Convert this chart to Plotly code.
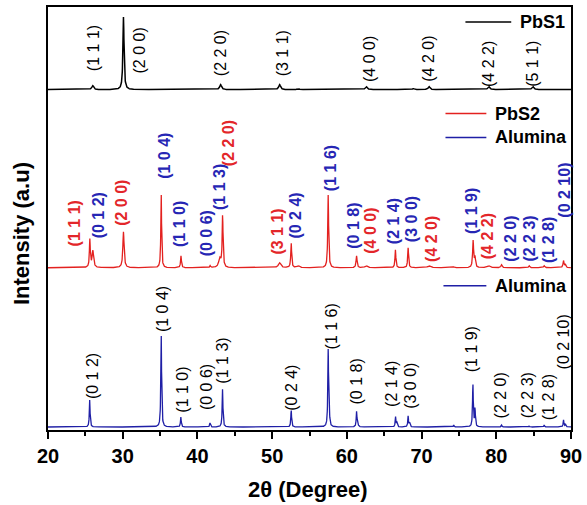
import numpy as np
import plotly.graph_objects as go

# ---------------- data ----------------
two_theta = np.round(np.arange(20, 90.0001, 0.02), 3)

# PbS1 (top pattern, black)
pbs1_base = 342
pbs1_pos = [26.0, 30.1, 43.1, 51.0, 53.5, 62.6, 68.9, 71.0, 79.0, 84.9]
pbs1_height = [4, 73, 5, 5, 1, 3, 1, 3, 3, 3]
pbs1_hwhm = [0.15, 0.09, 0.15, 0.15, 0.15, 0.15, 0.15, 0.15, 0.15, 0.15]
pbs1_labels = ["(1 1 1)", "(2 0 0)", "(2 2 0)", "(3 1 1)", "(4 0 0)", "(4 2 0)", "(4 2 2)", "(5 1 1)"]
pbs1_label_x = [26.0, 32.27, 43.07, 51.33, 62.93, 70.93, 78.93, 84.93]
pbs1_label_y = [383.5, 381, 379, 378.5, 372.5, 372.5, 368, 368]

# PbS2 (middle pattern, red)
pbs2_base = 163
pbs2_pos = [25.6, 26.0, 30.1, 35.15, 37.8, 41.7, 43.0, 43.37, 51.0, 52.55, 53.5,
            57.5, 61.3, 62.6, 66.5, 68.2, 71.0, 74.3, 76.9, 77.15, 79.0, 80.7,
            84.4, 86.4, 89.0, 89.25]
pbs2_height = [28, 17, 36, 75, 12, 2, 9, 52, 5, 25, 2,
               73, 12, 2, 18, 20, 2, 1, 27, 10, 2, 3,
               2, 2, 7, 3]
pbs2_hwhm = [0.07, 0.12, 0.1, 0.06, 0.07, 0.07, 0.18, 0.07, 0.2, 0.07, 0.2,
             0.07, 0.08, 0.2, 0.07, 0.07, 0.25, 0.1, 0.08, 0.08, 0.2, 0.1,
             0.1, 0.1, 0.08, 0.08]
pbs2_labels = ["(1 1 1)", "(0 1 2)", "(2 0 0)", "(1 0 4)", "(1 1 0)", "(0 0 6)", "(1 1 3)",
               "(2 2 0)", "(3 1 1)", "(0 2 4)", "(1 1 6)", "(0 1 8)", "(4 0 0)", "(2 1 4)",
               "(3 0 0)", "(4 2 0)", "(1 1 9)", "(4 2 2)", "(2 2 0)", "(2 2 3)", "(1 2 8)",
               "(0 2 10)"]
pbs2_label_phase = ["PbS", "Al", "PbS", "Al", "Al", "Al", "Al",
                    "PbS", "PbS", "Al", "Al", "Al", "PbS", "Al",
                    "Al", "PbS", "Al", "PbS", "Al", "Al", "Al", "Al"]
pbs2_label_x = [23.6, 26.8, 29.8, 35.6, 37.6, 41.33, 42.93,
                44.27, 50.67, 53.07, 57.73, 60.93, 63.2, 66.27,
                68.67, 71.33, 76.67, 78.93, 81.87, 84.4, 87.07, 89.2]
pbs2_label_y = [207.5, 215.5, 228.5, 275, 206.5, 198, 244.5,
                288.5, 199.5, 215.5, 263, 205, 200, 209.5,
                211.5, 191.5, 220.5, 195, 192.5, 192.5, 191, 240.5]

# Alumina (bottom pattern, blue)
alu_base = 3
alu_pos = [25.58, 35.15, 37.78, 41.68, 43.36, 52.55, 57.5, 57.65, 61.3, 61.45,
           66.52, 66.7, 68.2, 68.4, 74.3, 76.87, 77.15, 80.7, 84.4, 86.4, 89.0, 89.25]
alu_height = [27, 94, 10, 4, 38, 17, 77, 10, 15, 5,
              10, 4, 11, 4, 2, 43, 18, 2, 1, 2, 7, 3]
alu_hwhm = [0.06] * len(alu_pos)
alu_labels = ["(0 1 2)", "(1 0 4)", "(1 1 0)", "(0 0 6)", "(1 1 3)", "(0 2 4)", "(1 1 6)",
              "(0 1 8)", "(2 1 4)", "(3 0 0)", "(1 1 9)", "(2 2 0)", "(2 2 3)", "(1 2 8)",
              "(0 2 10)"]
alu_label_x = [25.87, 35.33, 38.0, 41.2, 43.33, 52.67, 58.0,
               61.33, 66.0, 68.53, 76.67, 80.53, 84.13, 86.93, 88.93]
alu_label_y = [54, 121, 41, 43.5, 70, 42.5, 104,
               48.5, 46, 44, 81.5, 35, 35, 33, 88]

x_ticks = [20, 30, 40, 50, 60, 70, 80, 90]


# ---------------- build ----------------
def pattern(base, pos, height, hwhm):
    y = np.full_like(two_theta, float(base))
    for p, h, w in zip(pos, height, hwhm):
        y = y + h / (1.0 + ((two_theta - p) / w) ** 2)
    return y


BLACK = "#000000"
RED = "#e3211f"
BLUE = "#1f1fa6"
RED_TXT = "#e3262a"
BLUE_TXT = "#2626b4"
FONT = "Liberation Sans, Arial, sans-serif"

# plot-area geometry (pixels) used to place the free titles
W, H = 587, 505
ML, MR, MT, MB = 48, 14, 5, 75
PW, PH = W - ML - MR, H - MT - MB

fig = go.Figure()
fig.add_trace(go.Scatter(x=two_theta, y=pattern(pbs1_base, pbs1_pos, pbs1_height, pbs1_hwhm),
                         mode="lines", line=dict(color=BLACK, width=1.5), name="PbS1"))
fig.add_trace(go.Scatter(x=two_theta, y=pattern(pbs2_base, pbs2_pos, pbs2_height, pbs2_hwhm),
                         mode="lines", line=dict(color=RED, width=1.3), name="PbS2"))
fig.add_trace(go.Scatter(x=two_theta, y=pattern(alu_base, alu_pos, alu_height, alu_hwhm),
                         mode="lines", line=dict(color=BLUE, width=1.3), name="Alumina"))

ann = []
for t, x, y in zip(pbs1_labels, pbs1_label_x, pbs1_label_y):
    ann.append(dict(x=x, y=y, xref="x", yref="y", text=t, textangle=-90, showarrow=False,
                    font=dict(family=FONT, size=16, color=BLACK)))
for t, ph, x, y in zip(pbs2_labels, pbs2_label_phase, pbs2_label_x, pbs2_label_y):
    ann.append(dict(x=x, y=y, xref="x", yref="y", text=t, textangle=-90, showarrow=False,
                    font=dict(family=FONT, size=16, color=RED_TXT if ph == "PbS" else BLUE_TXT,
                              weight="bold")))
for t, x, y in zip(alu_labels, alu_label_x, alu_label_y):
    ann.append(dict(x=x, y=y, xref="x", yref="y", text=t, textangle=-90, showarrow=False,
                    font=dict(family=FONT, size=16, color=BLACK)))

# in-panel legends
legend_items = [("PbS1", BLACK, 75.87, 82.0, 410),
                ("PbS2", RED, 73.2, 78.67, 318),
                ("Alumina", BLUE, 73.2, 78.67, 294),
                ("Alumina", BLUE, 72.93, 78.67, 145)]
shapes = []
for name, col, x0, x1, y in legend_items:
    shapes.append(dict(type="line", xref="x", yref="y", x0=x0, x1=x1, y0=y, y1=y,
                       line=dict(color=col, width=1.5)))
    ann.append(dict(x=x1 + 0.93, y=y, xref="x", yref="y", text=name, showarrow=False,
                    xanchor="left", yanchor="middle",
                    font=dict(family=FONT, size=18, color=BLACK, weight="bold")))

# y title
ann.append(dict(x=(22 - ML) / PW, y=(H - MB - 233) / PH, xref="paper", yref="paper",
                text="Intensity (a.u)", textangle=-90, showarrow=False,
                xanchor="center", yanchor="middle",
                font=dict(family=FONT, size=22, color=BLACK, weight="bold")))
# x title
ann.append(dict(x=(309 - ML) / PW, y=(H - MB - 490) / PH, xref="paper", yref="paper",
                text="2θ (Degree)", showarrow=False, xanchor="center", yanchor="middle",
                font=dict(family=FONT, size=22, color=BLACK, weight="bold")))

fig.update_layout(
    width=W, height=H,
    margin=dict(l=ML, r=MR, t=MT, b=MB),
    paper_bgcolor="white", plot_bgcolor="white",
    showlegend=False,
    annotations=ann, shapes=shapes,
    xaxis=dict(range=[20, 90], tickvals=x_ticks, ticktext=[str(v) for v in x_ticks],
               showline=True, linecolor=BLACK, linewidth=1.5, mirror=True,
               ticks="outside", ticklen=7, tickwidth=1.5, tickcolor=BLACK,
               minor=dict(dtick=5, tick0=20, ticks="outside", ticklen=4, tickwidth=1.5,
                          tickcolor=BLACK),
               tickfont=dict(family=FONT, size=20, color=BLACK, weight="bold"),
               showgrid=False, zeroline=False),
    yaxis=dict(range=[0, 425], showline=True, linecolor=BLACK, linewidth=1.5, mirror=True,
               showticklabels=False, ticks="", showgrid=False, zeroline=False),
)

fig.write_html("out.html")
